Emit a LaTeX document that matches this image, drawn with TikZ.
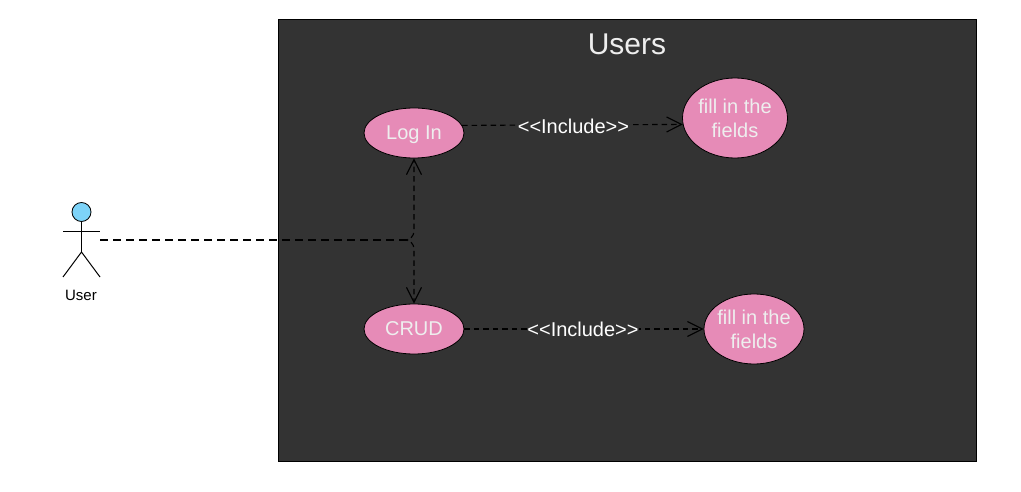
\documentclass[tikz,border=0pt]{standalone}
\usepackage{fontspec}
\setmainfont{Liberation Sans}
\usetikzlibrary{positioning, arrows.meta, shapes.geometric}
\definecolor{panelgray}{HTML}{333333}
\definecolor{casepink}{HTML}{E68BB7}
\definecolor{headblue}{HTML}{7DD3F8}
\definecolor{labelwhite}{HTML}{EEEEEE}
\tikzset{
	usecase/.style={ellipse, draw=black, thick, fill=casepink, text=labelwhite, inner sep=0pt, align=center, font=\fontsize{20}{24}\selectfont},
	includeline/.style={draw=black, line width=1.1pt, dash pattern=on 5.5pt off 4pt, -{Straight Barb[length=15pt,width=15pt]}},
	includelabel/.style={fill=panelgray, text=white, inner sep=0pt, font=\fontsize{20}{24}\selectfont},
	actorline/.style={draw=black, line width=1pt}
}

\begin{document}
\begin{tikzpicture}[x=1pt, y=-1pt]
		\useasboundingbox (0,0) rectangle (1021,492);
		
		% --- System Boundary ---
		\node[draw=black, thick, fill=panelgray, minimum width=698pt, minimum height=442pt, inner sep=0pt] (users) at (627,240) {};
		\node[text=labelwhite, font=\fontsize{30}{36}\selectfont] (userstitle) at (627,44) {Users};
		
		% --- Use Cases ---
		\node[usecase, minimum width=100pt, minimum height=50pt, text depth=0pt] (login) at (414,133) {Log In};
		\node[usecase, minimum width=100pt, minimum height=50pt] (crud) at (414,329) {CRUD};
		\node[usecase, minimum width=105pt, minimum height=80pt] (fieldsa) at (735,118) {fill in the\\fields};
		\node[usecase, inner xsep=-2pt, minimum width=100pt, minimum height=70pt] (fieldsb) at (754,329) {fill in the\\fields};
		
		% --- Actor ---
		\node[circle, draw=black, thick, fill=headblue, minimum size=19pt, inner sep=0pt] (head) at (81.5,212) {};
		\coordinate (hip) at (81.5,252);
		\draw[actorline] (head.south) -- (hip);
		\draw[actorline] (63,232) -- (100,232);
		\draw[actorline] (63,277) -- (hip) -- (100,277);
		\node[font=\fontsize{15}{18}\selectfont] (usertext) at (81,295) {User};
		\coordinate (actorhand) at (100,240);
		\coordinate (branch) at (408,240);
		
		% --- Associations ---
		\draw[line width=1.4pt, dash pattern=on 8pt off 5pt] (actorhand) -- (branch);
		\draw[includeline, rounded corners=9pt] (branch) -- (branch -| login.south) -- (login.south);
		\draw[includeline, rounded corners=9pt] (branch) -- (branch -| crud.north) -- (crud.north);
		
		% --- Includes ---
		\draw[includeline] (login.9.6) -- node[includelabel, pos=0.50, xshift=1pt, yshift=-1pt] (includea) {<{}<Include>{}>} (fieldsa.187.7);
		\draw[includeline] (crud.east) -- node[includelabel, pos=0.50, xshift=-1pt] (includeb) {<{}<Include>{}>} (fieldsb.west);
		
	\end{tikzpicture}
\end{document}
